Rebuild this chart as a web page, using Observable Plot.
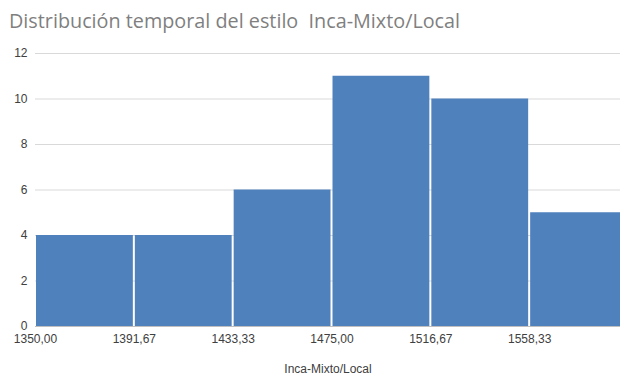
<!DOCTYPE html>
<html>
<head>
<meta charset="utf-8">
<script src="https://cdn.jsdelivr.net/npm/d3@7"></script>
<script src="https://cdn.jsdelivr.net/npm/@observablehq/plot@0.6"></script>
<style>
  html, body { margin: 0; padding: 0; background: #fff; }
  #title { height: 40px; font-family: "Open Sans", sans-serif; font-size: 19.8px; color: #7f7f7f; padding-left: 9px; line-height: 42px; white-space: pre; }
  svg { display: block; overflow: hidden; }
</style>
</head>
<body>
<div id="title">Distribución temporal del estilo  Inca-Mixto/Local</div>
<div id="chart"></div>
<script>
const binStarts = [1350, 1391.67, 1433.33, 1475, 1516.67, 1558.33];
const binEnds = [1391.67, 1433.33, 1475, 1516.67, 1558.33, 1600];
const counts = [4, 4, 6, 11, 10, 5];
const xTickLabels = ["1350,00", "1391,67", "1433,33", "1475,00", "1516,67", "1558,33"];
const yTicks = [0, 2, 4, 6, 8, 10, 12];
const axisTitle = "Inca-Mixto/Local";

const data = binStarts.map((s, i) => ({x1: s, x2: binEnds[i], y: counts[i]}));

const chart = Plot.plot({
  width: 620,
  height: 338,
  marginTop: 13,
  marginBottom: 52,
  marginLeft: 35,
  marginRight: 0,
  style: {fontFamily: "'Liberation Sans', Arial, sans-serif", fontSize: "12px", color: "#404040", background: "#fff"},
  x: {domain: [1350, 1600], range: [35, 628]},
  y: {domain: [0, 12]},
  marks: [
    Plot.gridY(yTicks.filter(d => d > 0), {stroke: "#d9d9d9", strokeOpacity: 1}),
    Plot.rectY(data, {x1: "x1", x2: "x2", y: "y", fill: "#4f81bd", insetLeft: 1, insetRight: 1}),
    Plot.ruleY([0], {stroke: "#bfbfbf"}),
    Plot.axisY({ticks: yTicks, tickSize: 0, tickPadding: 8, label: null, tickFormat: d => String(d), fill: "#404040"}),
    Plot.axisX({ticks: binStarts, tickSize: 0, tickPadding: 8, label: null, tickFormat: (d, i) => xTickLabels[binStarts.indexOf(d)], fill: "#404040"}),
    Plot.text([axisTitle], {frameAnchor: "bottom", dy: 46, fill: "#404040", fontSize: 12})
  ]
});
document.getElementById("chart").appendChild(chart);
</script>
</body>
</html>
